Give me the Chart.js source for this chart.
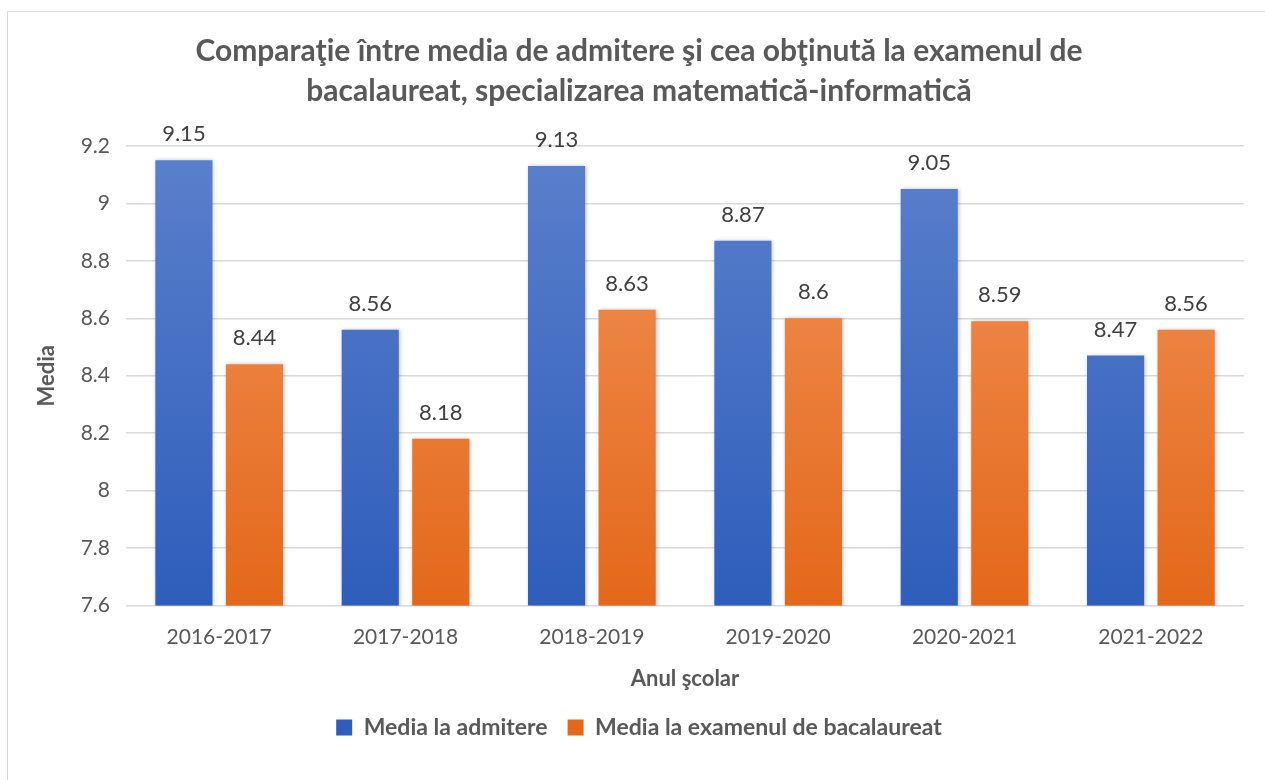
<!DOCTYPE html>
<html>
<head>
<meta charset="utf-8">
<script src="https://cdn.jsdelivr.net/npm/chart.js@4"></script>
<style>
  html, body { margin: 0; padding: 0; background: #fff; overflow: hidden; }
  #cadru { position: absolute; left: 7px; top: 11px; width: 1300px; height: 800px; border: 1.5px solid #d9d9d9; }
  #zona { position: absolute; left: 0; top: 0; width: 1265px; height: 780px; }
</style>
</head>
<body>
<div id="cadru"></div>
<div id="zona"><canvas id="grafic"></canvas></div>
<script>
// date
const aniScolari = ["2016-2017", "2017-2018", "2018-2019", "2019-2020", "2020-2021", "2021-2022"];
const mediaAdmitere = [9.15, 8.56, 9.13, 8.87, 9.05, 8.47];
const mediaBac = [8.44, 8.18, 8.63, 8.6, 8.59, 8.56];
const tickuriY = [7.6, 7.8, 8, 8.2, 8.4, 8.6, 8.8, 9, 9.2];

const gri = "#595959";
const font = "Lato, 'Open Sans', sans-serif";

// gradient vertical pe fiecare bara (ca in Excel)
function gradient(sus, jos) {
  return function(context) {
    const chart = context.chart;
    const area = chart.chartArea;
    if (!area) return jos;
    const g = chart.ctx.createLinearGradient(0, area.top, 0, area.bottom);
    g.addColorStop(0, sus);
    g.addColorStop(1, jos);
    return g;
  };
}

// etichete cu valori deasupra barelor
const eticheteValori = {
  id: "eticheteValori",
  afterDatasetsDraw(chart) {
    const ctx = chart.ctx;
    ctx.save();
    ctx.font = "22px " + font;
    ctx.fillStyle = "#404040";
    ctx.textAlign = "center";
    ctx.textBaseline = "alphabetic";
    chart.data.datasets.forEach((ds, i) => {
      chart.getDatasetMeta(i).data.forEach((bar, j) => {
        ctx.fillText(String(ds.data[j]), bar.x, bar.y - 19);
      });
    });
    ctx.restore();
  }
};

// umbra discreta sub bare
const umbra = {
  id: "umbra",
  beforeDatasetsDraw(chart) {
    chart.ctx.save();
    chart.ctx.shadowColor = "rgba(0,0,0,0.25)";
    chart.ctx.shadowBlur = 4;
    chart.ctx.shadowOffsetX = 1;
    chart.ctx.shadowOffsetY = 0;
  },
  afterDatasetsDraw(chart) {
    chart.ctx.restore();
  }
};

new Chart(document.getElementById("grafic"), {
  type: "bar",
  data: {
    labels: aniScolari,
    datasets: [
      {
        label: "Media la admitere",
        data: mediaAdmitere,
        backgroundColor: gradient("#5b80cc", "#2e5dbb")
      },
      {
        label: "Media la examenul de bacalaureat",
        data: mediaBac,
        backgroundColor: gradient("#f1945c", "#e4681a")
      }
    ]
  },
  options: {
    responsive: true,
    maintainAspectRatio: false,
    animation: false,
    categoryPercentage: 0.757,
    barPercentage: 0.81,
    layout: { padding: { left: 34, right: 21, top: 0, bottom: 31 } },
    plugins: {
      title: {
        display: true,
        text: ["Comparaţie între media de admitere şi cea obţinută la examenul de", "bacalaureat, specializarea matematică-informatică"],
        color: gri,
        font: { family: font, size: 30, weight: "bold", lineHeight: 1.35 },
        padding: { top: 31, bottom: 34 }
      },
      legend: {
        position: "bottom",
        labels: {
          color: gri,
          font: { family: font, size: 23, weight: "bold" },
          boxWidth: 16,
          boxHeight: 16,
          padding: 20
        }
      },
      tooltip: { enabled: false }
    },
    scales: {
      x: {
        grid: { display: false },
        border: { display: false },
        ticks: { color: gri, font: { family: font, size: 21 }, padding: 11 },
        title: {
          display: true,
          text: "Anul şcolar",
          color: gri,
          font: { family: font, size: 22, weight: "bold" },
          padding: { top: 5 }
        }
      },
      y: {
        min: 7.6,
        max: 9.2,
        afterBuildTicks: scale => { scale.ticks = tickuriY.map(v => ({ value: v })); },
        afterFit: scale => { scale.width = 92; },
        grid: { color: "#d9d9d9", lineWidth: 1.5, drawTicks: false },
        border: { display: false },
        ticks: { color: gri, font: { family: font, size: 21 }, padding: 16, callback: v => String(v) },
        title: {
          display: true,
          text: "Media",
          color: gri,
          font: { family: font, size: 22, weight: "bold" },
          padding: 0
        }
      }
    }
  },
  plugins: [umbra, eticheteValori]
});
</script>
</body>
</html>
